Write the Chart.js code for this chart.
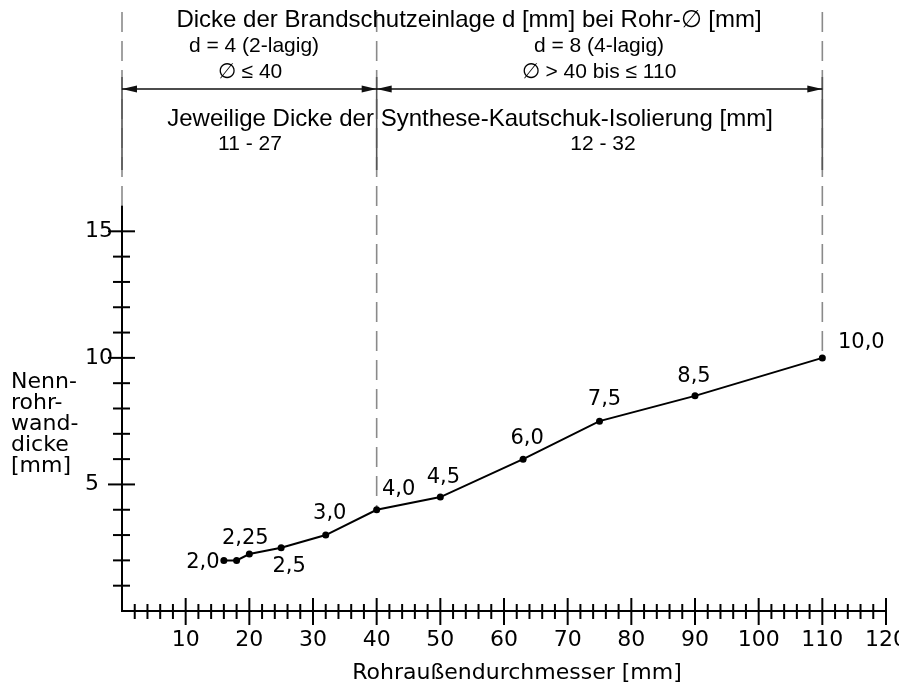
<!DOCTYPE html>
<html lang="de">
<head>
<meta charset="utf-8">
<title>Nennrohrwanddicke</title>
<script src="https://cdn.jsdelivr.net/npm/chart.js@4"></script>
<style>
    body { margin: 0; background: #fff; }
    canvas { display: block; }
</style>
</head>
<body>
<canvas id="chart" width="899" height="688"></canvas>
<script>
// Daten aus dem Diagramm
const durchmesser = [16, 18, 20, 25, 32, 40, 50, 63, 75, 90, 110];
const wanddicke = [2.0, 2.0, 2.25, 2.5, 3.0, 4.0, 4.5, 6.0, 7.5, 8.5, 10.0];
const punktTexte = ['2,0', '', '2,25', '2,5', '3,0', '4,0', '4,5', '6,0', '7,5', '8,5', '10,0'];
const xBeschriftung = [10, 20, 30, 40, 50, 60, 70, 80, 90, 100, 110, 120];
const yBeschriftung = [5, 10, 15];
const grenzen = [0, 40, 110];

// Versatz der Punkttexte (Pixel, relativ zum Punkt)
const textVersatz = [[-21, 2], null, [-4, -16], [8, 19], [4, -22], [22, -20], [3, -20], [4, -21], [5, -22], [-1, -19], [39, -15]];

const schrift = 'DejaVu Sans';
const schriftKopf = 'Liberation Sans';

// Hilfslinien, Pfeile, Texte und Teilstriche
const zeichnung = {
    id: 'zeichnung',
    beforeDatasetsDraw(chart) {
        const ctx = chart.ctx;
        const xs = chart.scales.x;
        const ys = chart.scales.y;
        const oben = 12;

        ctx.save();

        // senkrechte Strichlinien
        grenzen.forEach((g, i) => {
            const px = xs.getPixelForValue(g);
            let unten = ys.top;
            if (g > 0) {
                const idx = durchmesser.indexOf(g);
                unten = ys.getPixelForValue(wanddicke[idx]);
            }
            ctx.strokeStyle = '#8a8a8a';
            ctx.lineWidth = 1.6;
            ctx.setLineDash([20, 9]);
            ctx.beginPath();
            ctx.moveTo(px, oben);
            ctx.lineTo(px, unten);
            ctx.stroke();
            ctx.setLineDash([]);
            ctx.strokeStyle = '#555';
            ctx.beginPath();
            ctx.moveTo(px, 77);
            ctx.lineTo(px, 170);
            ctx.stroke();
        });

        // Masspfeil
        const pfeilY = 89;
        const x0 = xs.getPixelForValue(grenzen[0]);
        const x1 = xs.getPixelForValue(grenzen[1]);
        const x2 = xs.getPixelForValue(grenzen[2]);
        ctx.strokeStyle = '#111';
        ctx.lineWidth = 1.5;
        ctx.beginPath();
        ctx.moveTo(x0, pfeilY);
        ctx.lineTo(x2, pfeilY);
        ctx.stroke();
        const pfeil = (spitze, richtung) => {
            ctx.fillStyle = '#111';
            ctx.beginPath();
            ctx.moveTo(spitze, pfeilY);
            ctx.lineTo(spitze - richtung * 15, pfeilY - 3.5);
            ctx.lineTo(spitze - richtung * 15, pfeilY + 3.5);
            ctx.closePath();
            ctx.fill();
        };
        pfeil(x0, -1);
        pfeil(x1, 1);
        pfeil(x1, -1);
        pfeil(x2, 1);

        // Kopftexte
        ctx.fillStyle = '#000';
        ctx.textAlign = 'center';
        ctx.textBaseline = 'alphabetic';
        ctx.font = '24px "' + schriftKopf + '"';
        ctx.fillText('Dicke der Brandschutzeinlage d [mm] bei Rohr-\u2205 [mm]', 469, 27);
        ctx.fillText('Jeweilige Dicke der Synthese-Kautschuk-Isolierung [mm]', 470, 126);
        ctx.font = '21px "' + schriftKopf + '"';
        ctx.fillText('d = 4 (2-lagig)', 254, 52);
        ctx.fillText('\u2205 \u2264 40', 250, 78);
        ctx.fillText('d = 8 (4-lagig)', 599, 52);
        ctx.fillText('\u2205 > 40 bis \u2264 110', 599, 78);
        ctx.fillText('11 - 27', 250, 150);
        ctx.fillText('12 - 32', 603, 150);

        // Achsentitel
        ctx.font = '22px "' + schrift + '"';
        ctx.textAlign = 'left';
        ['Nenn-', 'rohr-', 'wand-', 'dicke', '[mm]'].forEach((z, i) => {
            ctx.fillText(z, 11, 388 + i * 21);
        });
        ctx.textAlign = 'center';
        ctx.fillText('Rohraußendurchmesser [mm]', 517, 679);

        // Teilstriche über die Achsen
        ctx.strokeStyle = '#000';
        ctx.lineWidth = 2;
        const achseY = ys.bottom;
        xs.ticks.forEach(t => {
            if (t.value <= 0) return;
            const px = xs.getPixelForValue(t.value);
            const gross = t.value % 10 === 0;
            ctx.beginPath();
            ctx.moveTo(px, achseY - (gross ? 13 : 7));
            ctx.lineTo(px, achseY + (gross ? 14 : 8));
            ctx.stroke();
        });
        const achseX = xs.left;
        ys.ticks.forEach(t => {
            if (t.value <= 0 || t.value > 15) return;
            const py = ys.getPixelForValue(t.value);
            const gross = t.value % 5 === 0;
            ctx.beginPath();
            ctx.moveTo(achseX - (gross ? 14 : 9), py);
            ctx.lineTo(achseX + (gross ? 13 : 8), py);
            ctx.stroke();
        });

        ctx.restore();
    },
    afterDatasetsDraw(chart) {
        const ctx = chart.ctx;
        const meta = chart.getDatasetMeta(0);
        ctx.save();
        ctx.fillStyle = '#000';
        ctx.font = '21px "' + schrift + '"';
        ctx.textAlign = 'center';
        ctx.textBaseline = 'middle';
        meta.data.forEach((p, i) => {
            if (!punktTexte[i] || !textVersatz[i]) return;
            ctx.fillText(punktTexte[i], p.x + textVersatz[i][0], p.y + textVersatz[i][1]);
        });
        ctx.restore();
    }
};

function setupChart() {
    const ctx = document.getElementById('chart').getContext('2d');

    new Chart(ctx, {
        type: 'line',
        data: {
            datasets: [{
                data: durchmesser.map((d, i) => ({ x: d, y: wanddicke[i] })),
                borderColor: '#000',
                backgroundColor: '#000',
                borderWidth: 2,
                pointRadius: 3.5,
                pointBackgroundColor: '#000',
                pointBorderWidth: 0,
                tension: 0,
                clip: false
            }]
        },
        options: {
            responsive: false,
            animation: false,
            layout: {
                padding: { left: 85, right: 13, top: 206, bottom: 0 }
            },
            plugins: {
                legend: { display: false },
                tooltip: { enabled: false }
            },
            scales: {
                x: {
                    type: 'linear',
                    min: 0,
                    max: 120,
                    afterFit: s => {
                        s.height = 77;
                        s.paddingLeft = 0;
                        s.paddingRight = 0;
                    },
                    grid: { display: true, drawOnChartArea: false, drawTicks: false, color: 'rgba(0,0,0,0)' },
                    border: { display: true, color: '#000', width: 2 },
                    ticks: {
                        stepSize: 2,
                        autoSkip: false,
                        maxRotation: 0,
                        padding: 16,
                        color: '#000',
                        font: { family: schrift, size: 22 },
                        callback: v => xBeschriftung.includes(v) ? String(v) : ''
                    }
                },
                y: {
                    type: 'linear',
                    min: 0,
                    max: 16,
                    afterFit: s => {
                        s.width = 37;
                        s.paddingTop = 0;
                        s.paddingBottom = 0;
                    },
                    grid: { display: true, drawOnChartArea: false, drawTicks: false, color: 'rgba(0,0,0,0)' },
                    border: { display: true, color: '#000', width: 2 },
                    ticks: {
                        stepSize: 1,
                        autoSkip: false,
                        crossAlign: 'far',
                        padding: 17,
                        color: '#000',
                        font: { family: schrift, size: 22 },
                        callback: v => yBeschriftung.includes(v) ? String(v) : ''
                    }
                }
            }
        },
        plugins: [zeichnung]
    });
}

setupChart();
</script>
</body>
</html>
